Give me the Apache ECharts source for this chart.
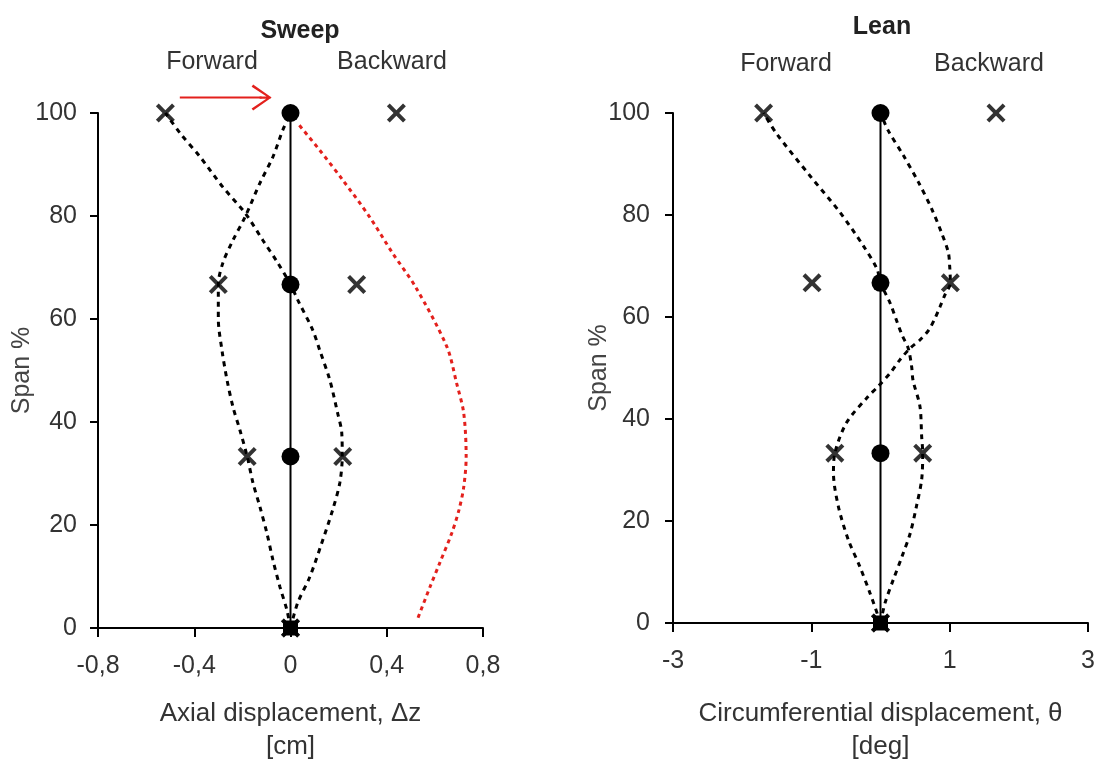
<!DOCTYPE html>
<html>
<head>
<meta charset="utf-8">
<title>Sweep and Lean</title>
<script src="https://cdn.jsdelivr.net/npm/echarts@6/dist/echarts.min.js"></script>
<style>
  html, body { margin: 0; padding: 0; background: #fff; }
  #main { width: 1096px; height: 760px; }
</style>
</head>
<body>
<div id="main"></div>
<script>
// span positions of the blade sections (%)
const spanLevels = [0, 33.3, 66.7, 100];
const spanTicks = [0, 20, 40, 60, 80, 100];

// Sweep: axial displacement [cm]
const sweepTicks = [-0.8, -0.4, 0, 0.4, 0.8];
const sweepBlade = [0, 0, 0, 0];
const sweepForward = [0, -0.18, -0.3, -0.52];
const sweepBackward = [0, 0.217, 0.275, 0.44];
// dashed blade shapes
const sweepCurveASpan = [0, 4.9, 9.9, 16.5, 22.9, 28.2, 33.3, 37.9, 41.7, 48.2, 54, 57.9, 63.7, 66.7, 70.9, 75.3, 80.6, 85.6, 91.5, 96.1, 100];
const sweepCurveAX = [0, 0.03, 0.08, 0.13, 0.175, 0.205, 0.215, 0.213, 0.196, 0.163, 0.121, 0.092, 0.03, 0, -0.053, -0.115, -0.189, -0.281, -0.376, -0.459, -0.52];
const sweepCurveBSpan = [0, 3.5, 8, 13.2, 18.4, 23.5, 28.2, 33.3, 38.4, 42.9, 48.2, 54, 60, 66.7, 70.9, 75.3, 79.8, 86.4, 91.5, 96.7, 100];
const sweepCurveBX = [0, -0.015, -0.044, -0.073, -0.098, -0.127, -0.156, -0.18, -0.21, -0.239, -0.264, -0.285, -0.3, -0.3, -0.281, -0.239, -0.189, -0.127, -0.073, -0.032, 0];
const sweepRedSpan = [2, 8, 12.6, 18.4, 22.9, 27.4, 33.2, 41.7, 47.6, 54.6, 66.2, 72.8, 79.8, 87, 92.8, 98];
const sweepRedX = [0.53, 0.58, 0.62, 0.67, 0.7, 0.72, 0.73, 0.72, 0.69, 0.65, 0.52, 0.424, 0.329, 0.217, 0.121, 0.03];
const arrowFrom = [-0.46, 103];
const arrowTo = [-0.12, 103];

// Lean: circumferential displacement [deg]
const leanTicks = [-3, -1, 1, 3];
const leanBlade = [0, 0, 0, 0];
const leanForward = [0, -0.66, -0.99, -1.69];
const leanBackward = [0, 0.61, 1.01, 1.67];
const leanCurveASpan = [0, 3.9, 8.5, 13, 17.6, 22.9, 28.1, 33.3, 36.6, 42.5, 47.6, 50.3, 53.9, 56.5, 59.4, 62.7, 66.7, 69.4, 74, 80.5, 87.7, 95.9, 100];
const leanCurveAX = [0, 0.065, 0.185, 0.31, 0.43, 0.52, 0.595, 0.61, 0.595, 0.57, 0.47, 0.45, 0.4, 0.31, 0.23, 0.14, 0, -0.05, -0.25, -0.585, -1.02, -1.5, -1.69];
const leanCurveBSpan = [0, 5.8, 11.1, 16.3, 22.9, 29.4, 33.3, 39.3, 44.4, 46.3, 49, 51.6, 53.9, 55.5, 57.5, 59.8, 62, 64.3, 66.7, 70, 72.7, 76.6, 81.2, 86.4, 91.7, 96.6, 100];
const leanCurveBX = [0, -0.15, -0.3, -0.465, -0.61, -0.68, -0.66, -0.49, -0.18, -0.04, 0.14, 0.28, 0.43, 0.57, 0.7, 0.79, 0.86, 0.93, 1.01, 1.0, 0.98, 0.88, 0.74, 0.55, 0.33, 0.11, 0];

const FONT = "'Liberation Sans', Arial, sans-serif";
const TEXT = "#333";
const RED = "#e3201c";
const CROSS = "path://M0,3L3,0L10,7L17,0L20,3L13,10L20,17L17,20L10,13L3,20L0,17L7,10Z";
const CHEVRON = "path://M1.5,0L20,12L1.5,24L0,22L16.5,12L0,2Z M8,11L19,11L19,13L8,13Z";

const pairs = (xs, ys) => xs.map((x, i) => [x, ys[i]]);

const bladeData = xs => xs.map((x, i) => ({
  value: [x, spanLevels[i]],
  symbol: i === 0 ? "rect" : "circle",
  symbolSize: i === 0 ? 15 : 18
}));

function crosses(xs, idx) {
  return {
    type: "scatter", xAxisIndex: idx, yAxisIndex: idx,
    symbol: CROSS, symbolSize: 19,
    itemStyle: { color: "#000" },
    data: pairs(xs, spanLevels), z: 4, silent: true
  };
}

function dashed(xs, ys, idx, color, dash) {
  return {
    type: "line", xAxisIndex: idx, yAxisIndex: idx,
    smooth: 0.3, symbol: "none", clip: false,
    lineStyle: { color: color, width: 3, type: dash },
    data: pairs(xs, ys), z: 3, silent: true
  };
}

function blade(xs, idx) {
  return {
    type: "line", xAxisIndex: idx, yAxisIndex: idx,
    clip: false, showSymbol: true,
    lineStyle: { color: "#000", width: 2 },
    itemStyle: { color: "#000" },
    data: bladeData(xs), z: 5, silent: true
  };
}

function xAxis(idx, name, ticks, min, max, fmt, gap) {
  return {
    type: "value", gridIndex: idx, min: min, max: max,
    name: name, nameLocation: "middle", nameGap: gap,
    nameTextStyle: { fontFamily: FONT, fontSize: 26, lineHeight: 33, color: TEXT },
    axisLine: { onZero: false, lineStyle: { color: "#000", width: 2 } },
    axisTick: { customValues: ticks, length: 9, lineStyle: { color: "#000", width: 2 } },
    axisLabel: { customValues: ticks, formatter: fmt, margin: 26,
      fontFamily: FONT, fontSize: 25, color: TEXT },
    splitLine: { show: false }
  };
}

function yAxis(idx, gap, margin) {
  return {
    type: "value", gridIndex: idx, min: 0, max: 100,
    name: "Span %", nameLocation: "middle", nameGap: gap, nameMoveOverlap: false,
    nameTextStyle: { fontFamily: FONT, fontSize: 25, color: "#444" },
    axisLine: { onZero: false, lineStyle: { color: "#000", width: 2 } },
    axisTick: { customValues: spanTicks, length: 8, lineStyle: { color: "#000", width: 2 } },
    axisLabel: { customValues: spanTicks, margin: margin,
      fontFamily: FONT, fontSize: 25, color: TEXT },
    splitLine: { show: false }
  };
}

function label(text, x, y, bold) {
  return {
    type: "text", x: x, y: y, silent: true,
    style: {
      text: text, align: "center", verticalAlign: "middle",
      font: (bold ? "bold " : "") + "25px " + FONT,
      fill: bold ? "#222" : TEXT
    }
  };
}

const sweepFmt = v => Math.abs(v) < 1e-9 ? "0" : v.toFixed(1).replace(".", ",");
const leanFmt = v => String(v);

const myChart = echarts.init(document.getElementById("main"));

const option = {
  animation: false,
  backgroundColor: "#fff",
  grid: [
    { left: 98, top: 113, width: 385, height: 515, containLabel: false, outerBoundsMode: "none" },
    { left: 673, top: 113, width: 415, height: 510, containLabel: false, outerBoundsMode: "none" }
  ],
  xAxis: [
    xAxis(0, "Axial displacement, \u0394z\n[cm]", sweepTicks, -0.8, 0.8, sweepFmt, 69),
    xAxis(1, "Circumferential displacement, \u03b8\n[deg]", leanTicks, -3, 3, leanFmt, 74)
  ],
  yAxis: [yAxis(0, 63, 21), yAxis(1, 61, 23)],
  graphic: [
    label("Sweep", 300, 31, true),
    label("Forward", 212, 62),
    label("Backward", 392, 62),
    label("Lean", 882, 27, true),
    label("Forward", 786, 64),
    label("Backward", 989, 64)
  ],
  series: [
    dashed(sweepCurveAX, sweepCurveASpan, 0, "#000", [5, 5]),
    dashed(sweepCurveBX, sweepCurveBSpan, 0, "#000", [5, 5]),
    dashed(sweepRedX, sweepRedSpan, 0, RED, [4, 4]),
    blade(sweepBlade, 0),
    crosses(sweepForward, 0),
    crosses(sweepBackward, 0),
    {
      // red arrow above the sweep plot, head drawn as an open chevron
      type: "line", xAxisIndex: 0, yAxisIndex: 0, silent: true, clip: false,
      showSymbol: true,
      symbol: (val, params) => params.dataIndex === 1 ? CHEVRON : "none",
      symbolSize: [20, 26],
      lineStyle: { color: RED, width: 2 },
      itemStyle: { color: RED },
      data: [arrowFrom, arrowTo]
    },
    dashed(leanCurveAX, leanCurveASpan, 1, "#000", [5, 5]),
    dashed(leanCurveBX, leanCurveBSpan, 1, "#000", [5, 5]),
    blade(leanBlade, 1),
    crosses(leanForward, 1),
    crosses(leanBackward, 1)
  ]
};

myChart.setOption(option);
</script>
</body>
</html>
